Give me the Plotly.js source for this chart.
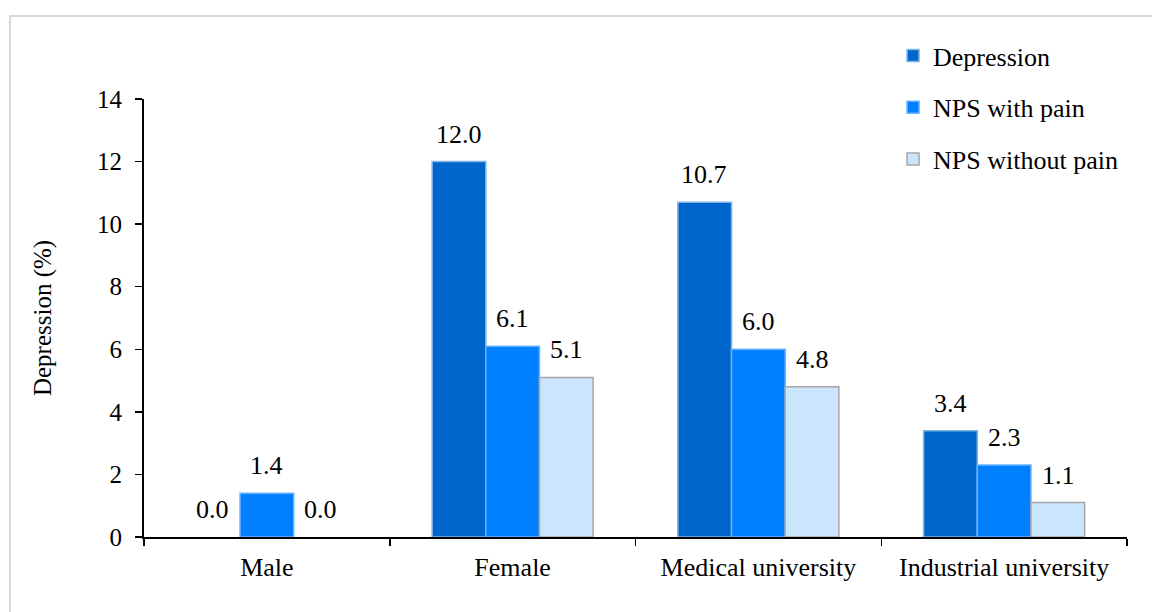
<!DOCTYPE html>
<html>
<head>
<meta charset="utf-8">
<script src="https://cdn.plot.ly/plotly-3.0.1.min.js"></script>
<style>
html,body{margin:0;padding:0;background:#fff;}
#wrap{position:relative;width:1152px;height:612px;overflow:hidden;}
#frame{position:absolute;left:9px;top:15px;width:1200px;height:700px;border-left:2px solid #d9d9d9;border-top:2px solid #d9d9d9;}
#chart{position:absolute;left:0;top:0;width:1152px;height:612px;}
</style>
</head>
<body>
<div id="wrap"><div id="frame"></div><div id="chart"></div></div>
<script>
const categories = ["Male", "Female", "Medical university", "Industrial university"];
const seriesNames = ["Depression", "NPS with pain", "NPS without pain"];
const depression = [0.0, 12.0, 10.7, 3.4];
const npsWithPain = [1.4, 6.1, 6.0, 2.3];
const npsWithoutPain = [0.0, 5.1, 4.8, 1.1];
const yTicks = [0, 2, 4, 6, 8, 10, 12, 14];

const fills = ["#0066cc", "#0080ff", "#cce5ff"];
const edges = ["#7fb3e6", "#66b3ff", "#a6a6a6"];
const allValues = [depression, npsWithPain, npsWithoutPain];
const FONT = "'Liberation Serif', serif";

const traces = allValues.map((vals, i) => {
  // list non-zero points first so the legend swatch takes a drawn bar's style;
  // the axis keeps the category order through categoryarray
  const idx = categories.map((c, j) => j).sort((a, b) => (vals[a] === 0) - (vals[b] === 0) || a - b);
  return {
    type: "bar",
    name: seriesNames[i],
    x: idx.map(j => categories[j]),
    y: idx.map(j => vals[j] === 0 ? null : vals[j]),
    marker: {color: fills[i], line: {color: edges[i], width: 1.5}},
    legendgroup: "g" + i,
    hoverinfo: "x+y"
  };
});

// value labels placed above each bar, offset sideways by bar slot
const barPx = 54;
const annotations = [];
allValues.forEach((vals, i) => {
  vals.forEach((v, j) => {
    annotations.push({
      x: categories[j], y: v, xref: "x", yref: "y",
      text: v.toFixed(1), showarrow: false,
      xanchor: "center", yanchor: "bottom",
      xshift: (i - 1) * barPx, yshift: 11,
      font: {family: FONT, size: 26, color: "#000"}
    });
  });
});

const layout = {
  width: 1152, height: 612,
  margin: {l: 144, r: 25, t: 99, b: 75},
  paper_bgcolor: "rgba(0,0,0,0)",
  plot_bgcolor: "rgba(0,0,0,0)",
  font: {family: FONT, color: "#000"},
  barmode: "group",
  bargap: 0.345,
  bargroupgap: 0,
  showlegend: true,
  annotations: annotations,
  legend: {
    x: 0.762, y: 1.153, xanchor: "left", yanchor: "top",
    font: {family: FONT, size: 26, color: "#000"},
    traceorder: "grouped", tracegroupgap: 15,
    bgcolor: "rgba(0,0,0,0)"
  },
  xaxis: {
    type: "category",
    categoryorder: "array", categoryarray: categories,
    showline: true, linecolor: "#000", linewidth: 2,
    ticks: "outside", tickson: "boundaries", ticklen: 7, tickcolor: "#000", tickwidth: 1.5,
    ticklabelstandoff: 6,
    tickfont: {family: FONT, size: 26, color: "#000"},
    showgrid: false, zeroline: false, fixedrange: true
  },
  yaxis: {
    range: [0, 14],
    tickvals: yTicks,
    ticktext: yTicks.map(String),
    showline: true, linecolor: "#000", linewidth: 2,
    ticks: "outside", ticklen: 7, tickcolor: "#000", tickwidth: 1.5,
    ticklabelstandoff: 8,
    tickfont: {family: FONT, size: 25, color: "#000"},
    showgrid: false, zeroline: false,
    title: {text: "Depression (%)", font: {family: FONT, size: 25, color: "#000"}, standoff: 38},
    fixedrange: true
  }
};

Plotly.newPlot("chart", traces, layout, {displayModeBar: false, staticPlot: true});
</script>
</body>
</html>
